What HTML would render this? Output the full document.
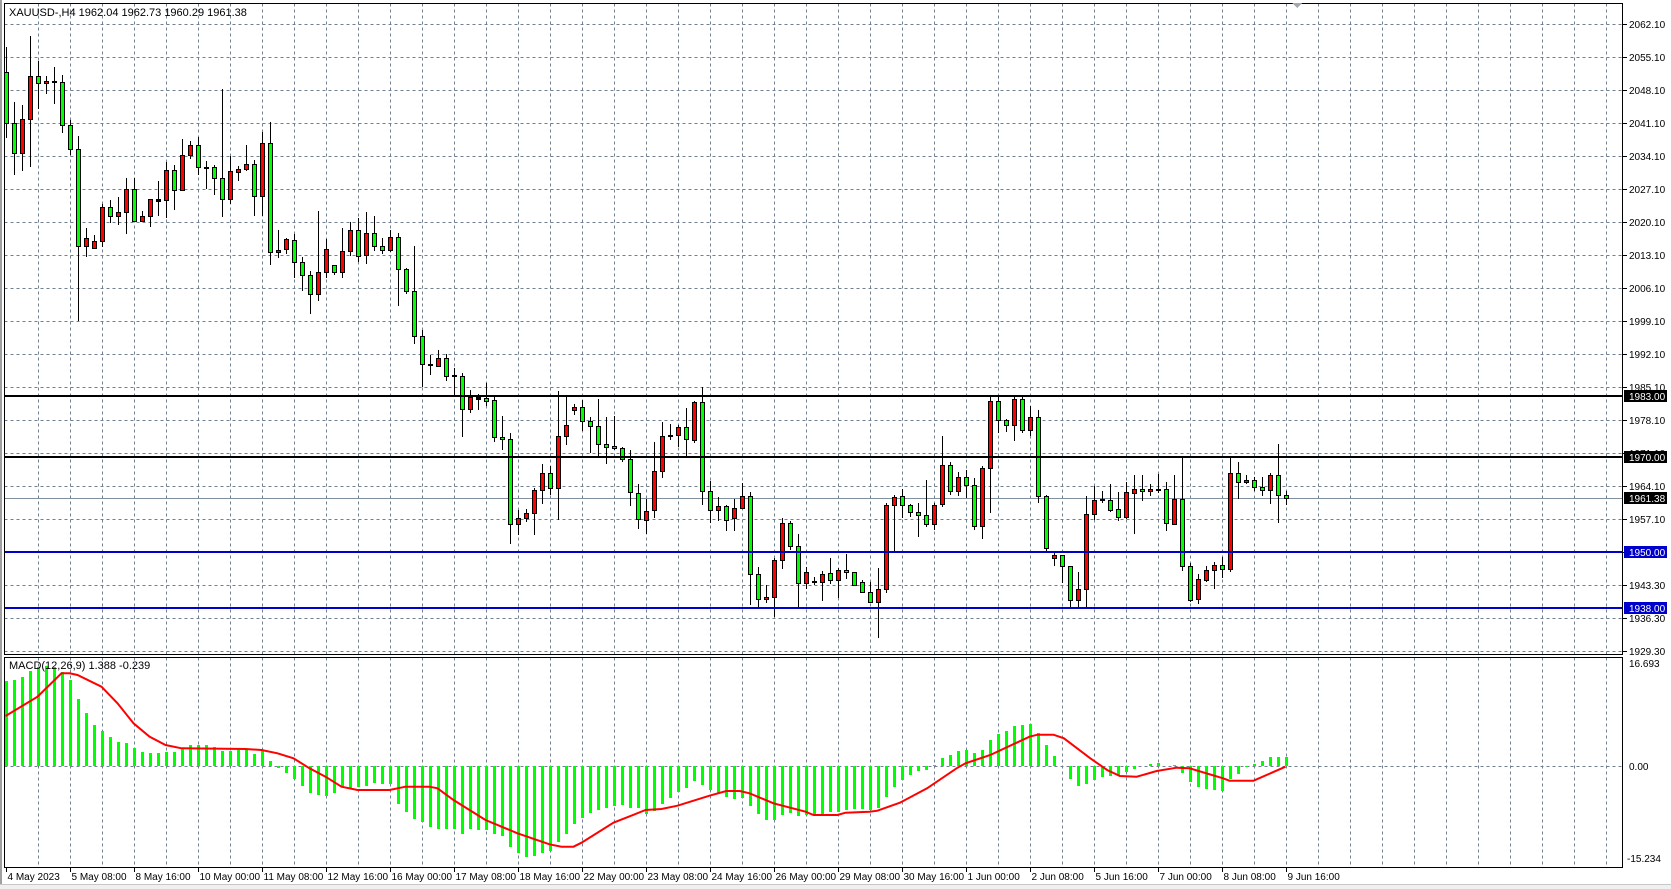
<!DOCTYPE html>
<html><head><meta charset="utf-8">
<style>
html,body{margin:0;padding:0;background:#fff;}
body{width:1671px;height:889px;overflow:hidden;position:relative;font-family:"Liberation Sans",sans-serif;}
svg{position:absolute;left:0;top:0;}
</style></head>
<body>
<svg id="s" width="1671" height="889" xmlns="http://www.w3.org/2000/svg" shape-rendering="crispEdges"></svg>
<script>
var out=[];
function A(s){out.push(s);}
// background & frame
A('<rect x="0" y="0" width="1671" height="889" fill="#fff"/>');
A('<rect x="0" y="0" width="2" height="889" fill="#a0a0a0"/>');
A('<rect x="0" y="884" width="1671" height="5" fill="#f0f0f0"/>');
A('<line x1="0" y1="884.5" x2="1671" y2="884.5" stroke="#c8c8c8"/>');
var L=4.5,R=1622.5,T=3.5,MB=654.5,MT=657.5,BB=867.5;
function yP(p){return 23.5+(2062.1-p)*33.0/7;}
// grid main horizontals
var g='stroke="#708090" stroke-width="1" stroke-dasharray="3,3"';
for(var k=0;k<20;k++){var y=Math.round(23.5+k*33.0)+0.5;A('<line x1="'+L+'" y1="'+y+'" x2="'+R+'" y2="'+y+'" '+g+'/>');}
// verticals
for(var k=1;k<60;k++){var x=Math.round(5.5+32*k)+0.5;if(x>=R)break;
A('<line x1="'+x+'" y1="'+T+'" x2="'+x+'" y2="'+MB+'" '+g+'/>');
A('<line x1="'+x+'" y1="'+MT+'" x2="'+x+'" y2="'+BB+'" '+g+'/>');}
// macd zero line
A('<line x1="'+L+'" y1="766.5" x2="'+R+'" y2="766.5" '+g+'/>');
// current price line
A('<line x1="'+L+'" y1="498.5" x2="'+R+'" y2="498.5" stroke="#8090a0"/>');
// candle data [H,T,B,Lo,color] in zoom units
var z4=[[80,157,310,350,'g'],[245,310,400,462,'g'],[255,298,400,450,'r'],[48,169,298,437,'r'],[122,169,190,264,'g'],[168,184,190,220,'r'],[141,184,187,248,'k'],[165,187,316,335,'g'],[300,316,388,402,'g'],[348,388,677,900,'g'],
[625,655,677,707,'r'],[645,663,685,685,'r'],[552,562,664,678,'r'],[540,562,587,607,'g'],[531,577,587,611,'r'],[474,508,577,638,'r'],[474,508,604,604,'g'],[574,589,604,604,'r'],[538,538,589,617,'r'],[483,538,542,584,'k'],
[426,451,541,590,'r'],[435,451,511,566,'g'],[357,406,511,511,'r'],[363,376,406,413,'r'],[350,376,442,462,'g'],[423,441,443,505,'k'],[436,442,475,521,'g'],[207,475,538,587,'g'],[408,454,538,550,'r'],[437,446,455,479,'r'],
[375,433,446,449,'r'],[420,433,529,584,'g'],[335,370,529,584,'r'],[306,370,696,733,'g'],[630,690,696,710,'r'],[655,658,688,698,'r'],[641,661,727,770,'g'],[712,727,766,811,'g'],[753,766,823,878,'g'],[574,757,823,841,'r'],[656,688,757,772,'r']];
var z5=[[195,195,217,221,'g'],[84,154,217,230,'r'],[66,91,154,164,'r'],[55,91,167,182,'g'],[36,100,166,188,'r'],[48,100,139,150,'g'],[115,139,149,158,'g'],[91,112,149,152,'r'],[99,112,208,315,'g'],
[205,208,274,278,'g'],[138,274,409,428,'g'],[390,409,493,558,'g'],[465,492,496,521,'k'],[450,475,497,497,'r'],[462,475,527,540,'g'],[505,525,529,588,'k'],[520,529,628,707,'g'],[571,592,628,635,'r'],[582,592,596,626,'k'],
[549,593,602,616,'g'],[592,601,712,724,'g'],[648,711,718,746,'g'],[700,718,972,1030,'g'],[930,955,972,1003,'r'],[927,940,955,962,'r'],[865,871,940,1003,'r'],[792,820,871,908,'r'],[798,820,865,883,'g'],[573,709,865,958,'r'],
[592,676,709,731,'r'],[612,622,631,643,'r'],[600,622,664,690,'g'],[650,663,679,757,'g'],[597,679,733,770,'g'],[650,733,742,790,'g'],[648,738,745,748,'g'],[740,745,776,782,'g'],[750,776,877,914,'g'],[853,880,958,983,'g']];
var z6=[[357,393,419,458,'r'],[185,273,391,410,'r'],[126,169,273,290,'r'],[132,166,168,176,'k'],[134,141,166,197,'r'],[84,141,178,227,'g'],[64,66,179,186,'r'],[20,66,334,371,'g'],[303,334,391,426,'g'],[351,379,391,419,'r'],
[376,379,419,449,'g'],[356,385,415,449,'r'],[310,349,385,385,'r'],[335,349,583,671,'g'],[562,583,658,677,'g'],[615,652,658,667,'r'],[535,541,652,707,'r'],[414,430,541,563,'r'],[422,430,499,506,'g'],[462,499,610,677,'g'],
[561,575,610,624,'r'],[591,603,607,611,'k'],[573,583,607,659,'r'],[534,580,601,608,'g'],[565,571,601,650,'r'],[521,570,577,593,'g'],[576,577,616,616,'g'],[600,607,637,637,'g'],[605,637,667,667,'g'],[563,628,667,772,'r'],
[368,374,628,637,'r'],[346,350,376,512,'r'],[327,349,376,410,'g'],[372,376,397,407,'g'],[369,397,405,467,'g'],[299,406,433,438,'g'],[369,374,433,448,'r'],[168,256,373,379,'r'],[246,256,334,341,'g'],[277,290,334,345,'r']];
var z7=[[270,290,316,351,'g'],[295,316,439,447,'g'],[258,265,439,473,'r'],[50,64,265,395,'r'],[50,64,121,157,'g'],[118,121,136,152,'g'],[50,58,136,179,'r'],[50,58,151,155,'g'],[79,112,151,164,'r'],[90,112,349,365,'g'],
[346,349,505,515,'g'],[520,526,535,556,'r'],[526,526,559,606,'g'],[558,559,661,684,'g'],[576,628,661,684,'r'],[349,403,628,684,'r'],[317,361,403,418,'r'],[333,357,361,367,'k'],[312,361,389,393,'g'],[337,387,411,420,'g'],
[306,337,412,414,'r'],[285,328,338,458,'r'],[285,328,334,361,'g'],[313,327,334,344,'r'],[282,328,329,337,'k'],[306,328,430,449,'g'],[285,357,431,431,'r'],[234,357,559,569,'g'],[548,559,659,663,'g'],[583,598,658,668,'r'],
[559,571,600,604,'r'],[546,556,571,624,'r'],[530,556,566,590,'g'],[229,280,566,573,'r'],[245,280,307,354,'g'],[285,300,307,310,'r'],[291,300,322,331,'g'],[292,321,331,345,'g'],[279,286,331,369,'r'],[192,286,346,425,'g'],[334,346,355,373,'g']];
var C=[];
z4.forEach(function(c){C.push([c,20]);});
z5.forEach(function(c){C.push([c,200]);});
z6.forEach(function(c){C.push([c,380]);});
z7.forEach(function(c){C.push([c,380]);});
var col={g:'#00ff00',r:'#ff0000',k:'#000000'};
C.forEach(function(e,i){var c=e[0],o=e[1];var cx=Math.round(5.5+8*i)+0.5;
var h=Math.round(o+c[0]/3),t=Math.round(o+c[1]/3),b=Math.round(o+c[2]/3),l=Math.round(o+c[3]/3);
A('<line x1="'+cx+'" y1="'+h+'" x2="'+cx+'" y2="'+(l+1)+'" stroke="#000"/>');
if(b-t<1){A('<line x1="'+(cx-2.5)+'" y1="'+(t+0.5)+'" x2="'+(cx+2.5)+'" y2="'+(t+0.5)+'" stroke="#000" stroke-width="1"/>');}
else A('<rect x="'+(cx-2)+'" y="'+(t+0.5)+'" width="4" height="'+(b-t)+'" fill="'+col[c[4]]+'" stroke="#000"/>');
});
// level lines
A('<rect x="4" y="395" width="1619" height="2" fill="#000"/>');
A('<rect x="4" y="456" width="1619" height="2" fill="#000"/>');
A('<rect x="4" y="551" width="1619" height="2" fill="#0000cc"/>');
A('<rect x="4" y="607" width="1619" height="2" fill="#0000cc"/>');
// MACD histogram
var h3=[123,120,110,93,80,78,80,95,120,177,218,255,272,290,305,309,323,335,340,340,336,335,328,315,315,316,322,333,332,330,328,342,333,363,385,400,418,437,459,465,467,460,440,445,440,437,430,432,432,493,515,537,545,560,567,568,568,582,567,570];
var h8=[510,521,527,561,578,590,587,578,573,545,521,491,473,459,450,443,437,435,444,445,461,453,432,413,396,383,363,374,389,398,410,416,413,437,461,479,479,464,458,467,464,463,463,455,455,449,447,447,450,443,410];
var h9=[381,360,345,333,329,316,294,285,272,270,279,270,240,222,213,198,195,192,219,255,288,319,357,378,372,360,351,347,344,336,327,318,312,310,318,316,339,366,381,387,390,394,358,342,322,312,303,291,291,291];
var HY=[];
h3.forEach(function(z){HY.push(640+z/3);});
h8.forEach(function(z){HY.push(660+z/3);});
h9.forEach(function(z){HY.push(660+z/3);});
HY.forEach(function(y,i){var x=Math.round(5.5+8*i)-1;y=Math.round(y);var z=766;
if(Math.abs(y-z)<1)return;
var a=Math.min(y,z),b=Math.max(y,z);A('<rect x="'+x+'" y="'+a+'" width="3" height="'+(b-a)+'" fill="#00ff00"/>');});
// signal line
var s3=[[0,228],[4,170],[7,100],[8,100],[9,105],[12,140],[14,190],[16,250],[18,290],[20,315],[22,325],[30,327],[32,330],[34,340],[36,355],[38,385],[40,410],[42,440],[44,450],[48,450],[50,440],[53,440],[54,445],[56,480],[58,510]];
var s8=[[60,480],[64,520],[68,553],[69.5,560],[71,560],[72,548],[76,488],[80,450],[82,447],[84,437],[88,407],[90.1,393],[91.8,393],[93,400],[96,430],[100,455],[101,465],[104,465],[105,458],[108,455],[109,452],[111.8,428]];
var s9=[[115.2,385],[119,323],[120,310],[123.1,285],[128,230],[129,224],[131,224],[132.3,235],[135.6,295],[137.7,330],[139.3,348],[141.4,350],[143.9,333],[146.4,323],[148,325],[152.2,355],[153,362],[156,362],[160,320]];
var P=[];
s3.forEach(function(p){P.push((5.5+8*p[0]).toFixed(1)+','+(640+p[1]/3).toFixed(1));});
s8.concat(s9).forEach(function(p){P.push((5.5+8*p[0]).toFixed(1)+','+(660+p[1]/3).toFixed(1));});
A('<polyline points="'+P.join(' ')+'" fill="none" stroke="#ff0000" stroke-width="2" shape-rendering="auto"/>');
// frames
A('<rect x="'+L+'" y="'+T+'" width="'+(R-L)+'" height="'+(MB-T)+'" fill="none" stroke="#000"/>');
A('<rect x="'+L+'" y="'+MT+'" width="'+(R-L)+'" height="'+(BB-MT)+'" fill="none" stroke="#000"/>');
A('<polygon points="1292,3 1302,3 1297,8" fill="#a0a8b0"/>');
// right labels
var labs=['2062.10','2055.10','2048.10','2041.10','2034.10','2027.10','2020.10','2013.10','2006.10','1999.10','1992.10','1985.10','1978.10','1971.10','1964.10','1957.10','1950.10','1943.30','1936.30','1929.30'];
var ts='font-family="Liberation Sans, sans-serif" font-size="10"';
labs.forEach(function(t,k){var y=Math.round(23.5+k*33.0);
A('<line x1="1623" y1="'+(y+0.5)+'" x2="1627" y2="'+(y+0.5)+'" stroke="#000"/>');
A('<text x="1629" y="'+(y+4)+'" '+ts+' fill="#000">'+t+'</text>');});
function box(y,t,bg){A('<rect x="1624" y="'+(y-6)+'" width="43" height="12" fill="'+bg+'"/>');A('<text x="1629" y="'+(y+4)+'" '+ts+' fill="#fff">'+t+'</text>');}
box(396,'1983.00','#000');box(457,'1970.00','#000');box(498,'1961.38','#000');box(552,'1950.00','#0000cc');box(608,'1938.00','#0000cc');
A('<text x="1629" y="667" '+ts+' fill="#000">16.693</text>');
A('<text x="1629" y="770" '+ts+' fill="#000">0.00</text>');
A('<text x="1627" y="862" '+ts+' fill="#000">-15.234</text>');
// titles
A('<text x="9" y="16" font-family="Liberation Sans, sans-serif" font-size="11" fill="#000">XAUUSD-,H4  1962.04 1962.73 1960.29 1961.38</text>');
A('<text x="9" y="669" font-family="Liberation Sans, sans-serif" font-size="11" fill="#000">MACD(12,26,9) 1.388 -0.239</text>');
// x labels
var xl=['4 May 2023','5 May 08:00','8 May 16:00','10 May 00:00','11 May 08:00','12 May 16:00','16 May 00:00','17 May 08:00','18 May 16:00','22 May 00:00','23 May 08:00','24 May 16:00','26 May 00:00','29 May 08:00','30 May 16:00','1 Jun 00:00','2 Jun 08:00','5 Jun 16:00','7 Jun 00:00','8 Jun 08:00','9 Jun 16:00'];
xl.forEach(function(t,k){var x=Math.round(5.5+64*k)+0.5;
A('<line x1="'+x+'" y1="868" x2="'+x+'" y2="872" stroke="#000"/>');
A('<text x="'+(x+1)+'" y="880" font-family="Liberation Sans, sans-serif" font-size="10" fill="#000">'+t+'</text>');});
document.getElementById('s').innerHTML=out.join('');
</script>
</body></html>
